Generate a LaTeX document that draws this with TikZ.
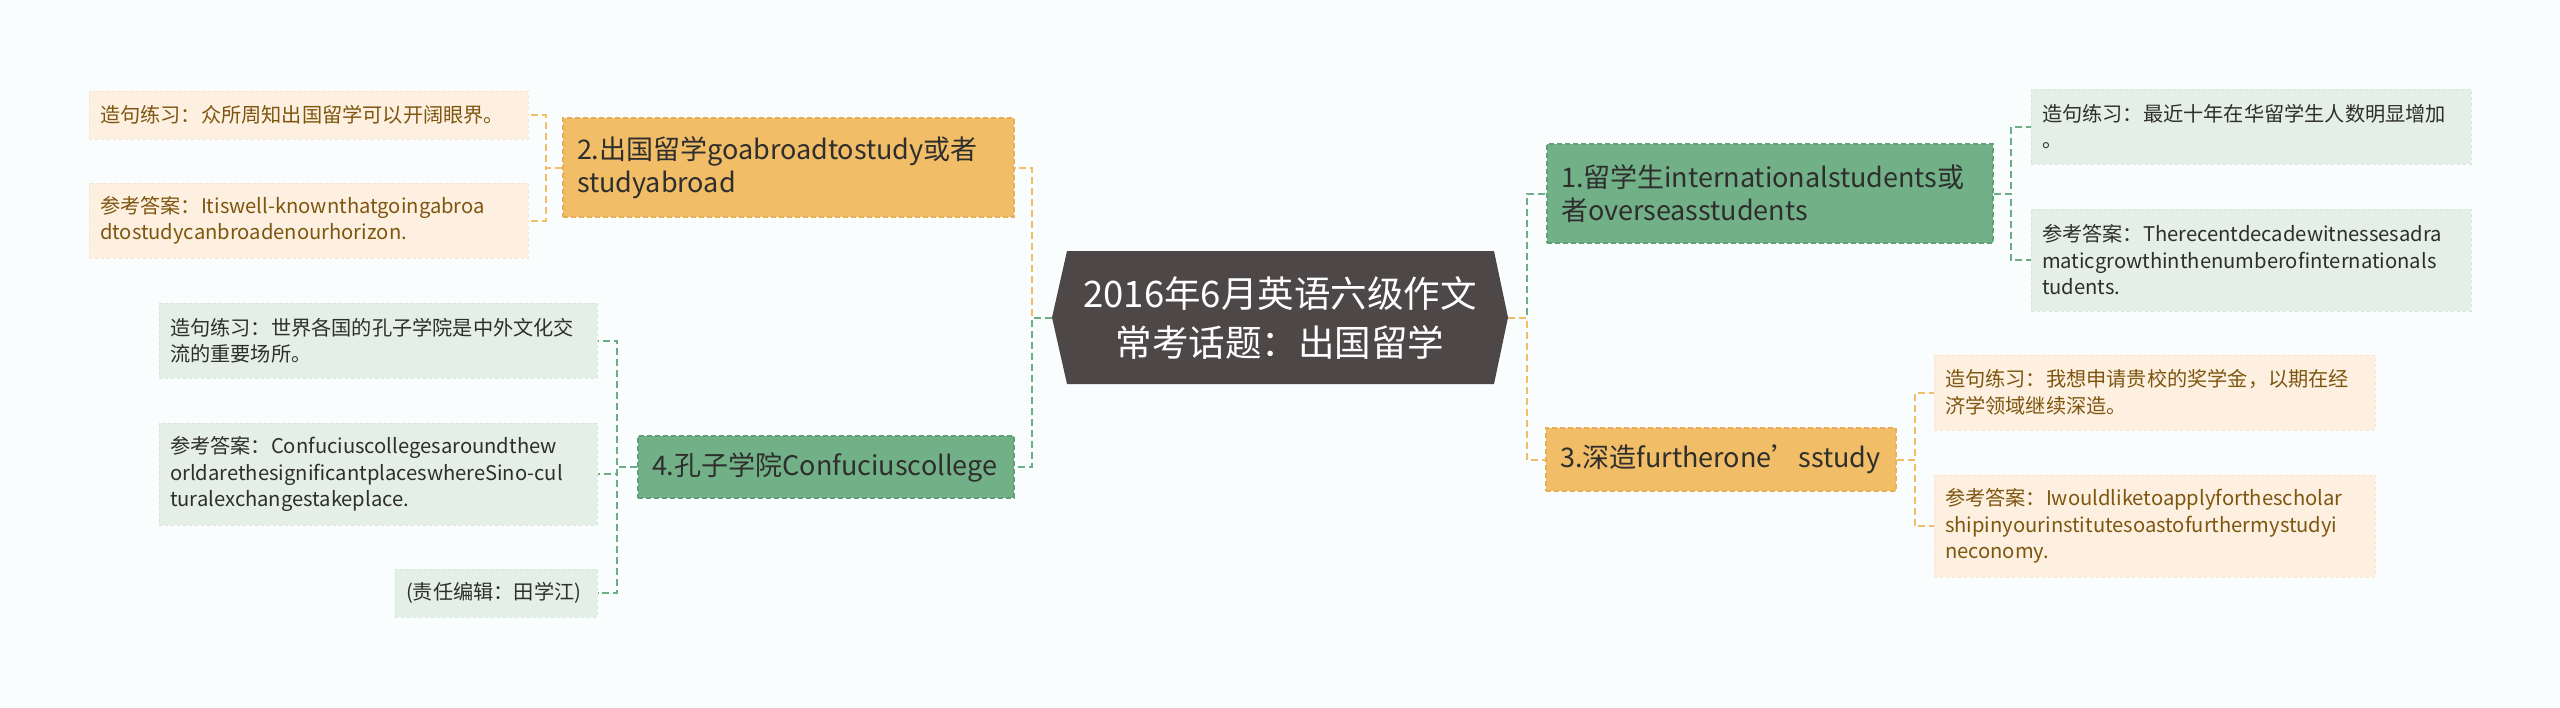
\documentclass[tikz,border=0pt]{standalone}
\usepackage{fontspec}
\setmainfont{Noto Sans CJK SC}
\definecolor{paper}{HTML}{F9FDFE}
\definecolor{hubfill}{HTML}{4D4847}
\definecolor{topicorange}{HTML}{F1BD66}
\definecolor{topicorangeedge}{HTML}{E6AE55}
\definecolor{topicgreen}{HTML}{72B087}
\definecolor{topicgreenedge}{HTML}{619F77}
\definecolor{leaforange}{HTML}{FDF0E1}
\definecolor{leaforangeedge}{HTML}{F7E4CD}
\definecolor{leaforangetext}{HTML}{7E560F}
\definecolor{leafgreen}{HTML}{E3EFE7}
\definecolor{leafgreenedge}{HTML}{D4E5D9}
\definecolor{darktext}{HTML}{2E2E2E}
\definecolor{lineorange}{HTML}{F1BD66}
\definecolor{linegreen}{HTML}{6DAE84}
\hyphenpenalty=10000
\exhyphenpenalty=10000
\begin{document}
\begin{tikzpicture}[x=1pt,y=-1pt]
        \tikzstyle{leafbox}=[rectangle, draw, dashed, line width=1pt, inner xsep=11pt, inner ysep=0pt, align=left, font=\fontsize{20.2}{26.5}\selectfont]
        \tikzstyle{orangeleaf}=[leafbox, fill=leaforange, draw=leaforangeedge, text=leaforangetext]
        \tikzstyle{greenleaf}=[leafbox, fill=leafgreen, draw=leafgreenedge, text=darktext]
        \tikzstyle{topic}=[rectangle, draw, dash pattern=on 5pt off 3pt, line width=1.5pt, inner xsep=14pt, inner ysep=0pt, align=left, text=darktext, font=\fontsize{27}{33.5}\selectfont]
        \tikzstyle{orangetopic}=[topic, fill=topicorange, draw=topicorangeedge]
        \tikzstyle{greentopic}=[topic, fill=topicgreen, draw=topicgreenedge]
        \tikzstyle{hubtext}=[inner sep=0pt, minimum width=456pt, minimum height=133pt, align=center, text=white, font=\fontsize{36.5}{49}\selectfont]
        \tikzstyle{orangeline}=[draw=lineorange, line width=2pt, dash pattern=on 7pt off 4pt]
        \tikzstyle{greenline}=[draw=linegreen, line width=2pt, dash pattern=on 7pt off 4pt]
        \fill[paper] (0,0) rectangle (2560,707);
        \useasboundingbox (0,0) rectangle (2560,707);
        \fill[hubfill] (1052,317.5) -- (1067,251) -- (1494,251) -- (1508,317.5) -- (1494,384) -- (1067,384) -- cycle;
        \node[hubtext] (hub) at (1280,317.5) {2016年6月英语六级作文\\常考话题：出国留学};
        \node[orangetopic, text width=423pt, minimum height=99pt] (n2) at (788.5,167.5) {2.出国留学goabroadtostudy或者\\studyabroad};
        \node[greentopic, text width=348pt, minimum height=62pt] (n4) at (826,467) {4.孔子学院Confuciuscollege};
        \node[greentopic, text width=418pt, minimum height=99pt] (n1) at (1770,193.5) {1.留学生internationalstudents或\\者overseasstudents};
        \node[orangetopic, text width=322pt, minimum height=63pt] (n3) at (1721,459.5) {3.深造furtherone’sstudy};
        \node[orangeleaf, text width=417pt, minimum height=48pt] (a1) at (308.5,115) {造句练习：众所周知出国留学可以开阔眼界。};
        \node[orangeleaf, text width=417pt, minimum height=75pt] (a2) at (308.5,220.5) {参考答案：Itiswell-knownthatgoingabroa\\dtostudycanbroadenourhorizon.};
        \node[greenleaf, text width=416pt, minimum height=75pt] (b1) at (378,340.5) {造句练习：世界各国的孔子学院是中外文化交\\流的重要场所。};
        \node[greenleaf, text width=416pt, minimum height=102pt] (b2) at (378,474) {参考答案：Confuciuscollegesaroundthew\\orldarethesignificantplaceswhereSino-cul\\turalexchangestakeplace.};
        \node[greenleaf, text width=180pt, minimum height=48pt] (b3) at (496,593) {(责任编辑：田学江)};
        \node[greenleaf, text width=418pt, minimum height=75pt] (c1) at (2251,126.5) {造句练习：最近十年在华留学生人数明显增加\\。};
        \node[greenleaf, text width=418pt, minimum height=102pt] (c2) at (2251,260) {参考答案：Therecentdecadewitnessesadra\\maticgrowthinthenumberofinternationals\\tudents.};
        \node[orangeleaf, text width=419pt, minimum height=75pt] (d1) at (2154.5,392.5) {造句练习：我想申请贵校的奖学金，以期在经\\济学领域继续深造。};
        \node[orangeleaf, text width=419pt, minimum height=102pt] (d2) at (2154.5,526) {参考答案：Iwouldliketoapplyforthescholar\\shipinyourinstitutesoastofurthermystudyi\\neconomy.};
        \draw[orangeline] (hub.west) -- ++(-20,0) |- (n2.east);
        \draw[greenline] (hub.west) -- ++(-20,0) |- (n4.east);
        \draw[greenline] (hub.east) -- ++(19,0) |- (n1.west);
        \draw[orangeline] (hub.east) -- ++(19,0) |- (n3.west);
        \foreach \l in {a1,a2}
            \draw[orangeline] (n2.west) -- ++(-16,0) |- (\l.east);
        \foreach \l in {b1,b2,b3}
            \draw[greenline] (n4.west) -- ++(-20,0) |- (\l.east);
        \foreach \l in {c1,c2}
            \draw[greenline] (n1.east) -- ++(17,0) |- (\l.west);
        \foreach \l in {d1,d2}
            \draw[orangeline] (n3.east) -- ++(18,0) |- (\l.west);
      \end{tikzpicture}
\end{document}
